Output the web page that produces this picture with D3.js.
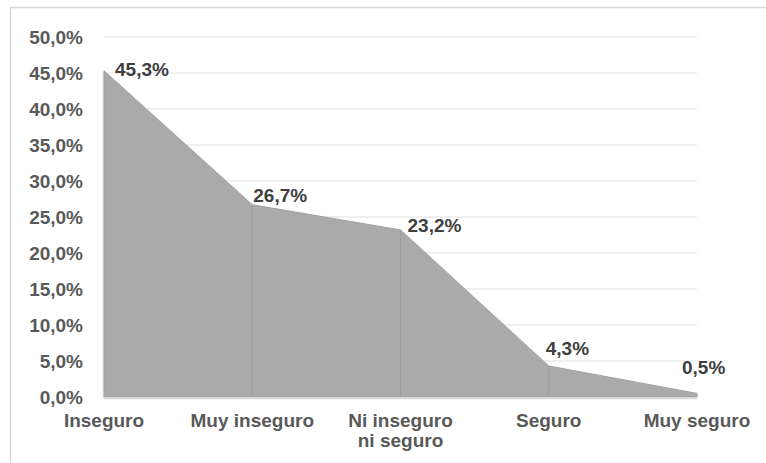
<!DOCTYPE html>
<html>
<head>
<meta charset="utf-8">
<script src="https://cdn.jsdelivr.net/npm/d3@7"></script>
<style>
  body { margin: 0; background: #fff; }
  text { font-family: "Liberation Sans", Arial, sans-serif; font-weight: bold; }
</style>
</head>
<body>
<div id="chart"></div>
<script>
  // data
  const categories = ["Inseguro", "Muy inseguro", "Ni inseguro|ni seguro", "Seguro", "Muy seguro"];
  const values = [45.3, 26.7, 23.2, 4.3, 0.5];
  const yTicks = [0, 5, 10, 15, 20, 25, 30, 35, 40, 45, 50];

  // layout
  const width = 766, height = 463;
  const margin = { top: 37, right: 69, bottom: 66, left: 104 };
  // hand nudges for the value labels (dx, dy from point)
  const labelDx = [11, 1, 7, -3, -15];
  const labelDy = [5, -3, 2, -11, -19];

  const fmt = v => d3.format(".1f")(v).replace(".", ",") + "%";

  const svg = d3.select("#chart").append("svg")
    .attr("width", width)
    .attr("height", height);

  // outer frame
  svg.append("rect")
    .attr("x", 10.5).attr("y", 7.5)
    .attr("width", 800).attr("height", 600)
    .attr("fill", "none")
    .attr("stroke", "#d9d9d9")
    .attr("stroke-width", 1.5);

  const x = d3.scalePoint()
    .domain(categories)
    .range([margin.left, width - margin.right]);

  const y = d3.scaleLinear()
    .domain([0, 50])
    .range([height - margin.bottom, margin.top]);

  // grid
  svg.append("g")
    .selectAll("line")
    .data(yTicks)
    .join("line")
    .attr("x1", margin.left)
    .attr("x2", width - margin.right)
    .attr("y1", d => y(d))
    .attr("y2", d => y(d))
    .attr("stroke", "#ebebeb")
    .attr("stroke-width", 1.5);

  const data = categories.map((c, i) => ({ cat: c, value: values[i] }));

  const area = d3.area()
    .x(d => x(d.cat))
    .y0(y(0))
    .y1(d => y(d.value));

  const defs = svg.append("defs");
  const filter = defs.append("filter").attr("id", "soft")
    .attr("x", "-5%").attr("y", "-5%").attr("width", "110%").attr("height", "110%");
  filter.append("feGaussianBlur").attr("in", "SourceAlpha").attr("stdDeviation", 1.2).attr("result", "b");
  filter.append("feOffset").attr("in", "b").attr("dx", 0).attr("dy", 0.5).attr("result", "o");
  filter.append("feFlood").attr("flood-color", "#000").attr("flood-opacity", 0.2);
  filter.append("feComposite").attr("in2", "o").attr("operator", "in").attr("result", "s");
  const merge = filter.append("feMerge");
  merge.append("feMergeNode").attr("in", "s");
  merge.append("feMergeNode").attr("in", "SourceGraphic");

  svg.append("path")
    .datum(data)
    .attr("d", area)
    .attr("fill", "#a8a8a8")
    .attr("fill-opacity", 0.97)
    .attr("stroke", "#a0a0a0")
    .attr("stroke-width", 1)
    .attr("filter", "url(#soft)");

  // drop lines
  svg.append("g")
    .selectAll("line")
    .data(data.slice(1, -1))
    .join("line")
    .attr("x1", d => x(d.cat))
    .attr("x2", d => x(d.cat))
    .attr("y1", d => y(d.value))
    .attr("y2", y(0))
    .attr("stroke", "#9e9e9e")
    .attr("stroke-width", 1);

  // baseline
  svg.append("line")
    .attr("x1", margin.left)
    .attr("x2", width - margin.right)
    .attr("y1", y(0) + 1)
    .attr("y2", y(0) + 1)
    .attr("stroke", "#d9d9d9")
    .attr("stroke-width", 1.5);

  // y axis labels
  svg.append("g")
    .selectAll("text")
    .data(yTicks)
    .join("text")
    .attr("x", 83)
    .attr("y", d => y(d))
    .attr("dy", "0.35em")
    .attr("text-anchor", "end")
    .attr("font-size", 19)
    .attr("fill", "#595959")
    .text(d => fmt(d));

  // x axis labels
  const xl = svg.append("g")
    .selectAll("text")
    .data(categories)
    .join("text")
    .attr("x", d => x(d))
    .attr("y", 427)
    .attr("text-anchor", "middle")
    .attr("font-size", 19)
    .attr("fill", "#595959");
  xl.selectAll("tspan")
    .data(d => d.split("|").map(t => ({ t, cat: d })))
    .join("tspan")
    .attr("x", d => x(d.cat))
    .attr("dy", (d, i) => i === 0 ? 0 : 20)
    .text(d => d.t);

  // value labels
  svg.append("g")
    .selectAll("text")
    .data(data)
    .join("text")
    .attr("x", (d, i) => x(d.cat) + labelDx[i])
    .attr("y", (d, i) => y(d.value) + labelDy[i])
    .attr("font-size", 19)
    .attr("fill", "#404040")
    .text(d => fmt(d.value));
</script>
</body>
</html>
